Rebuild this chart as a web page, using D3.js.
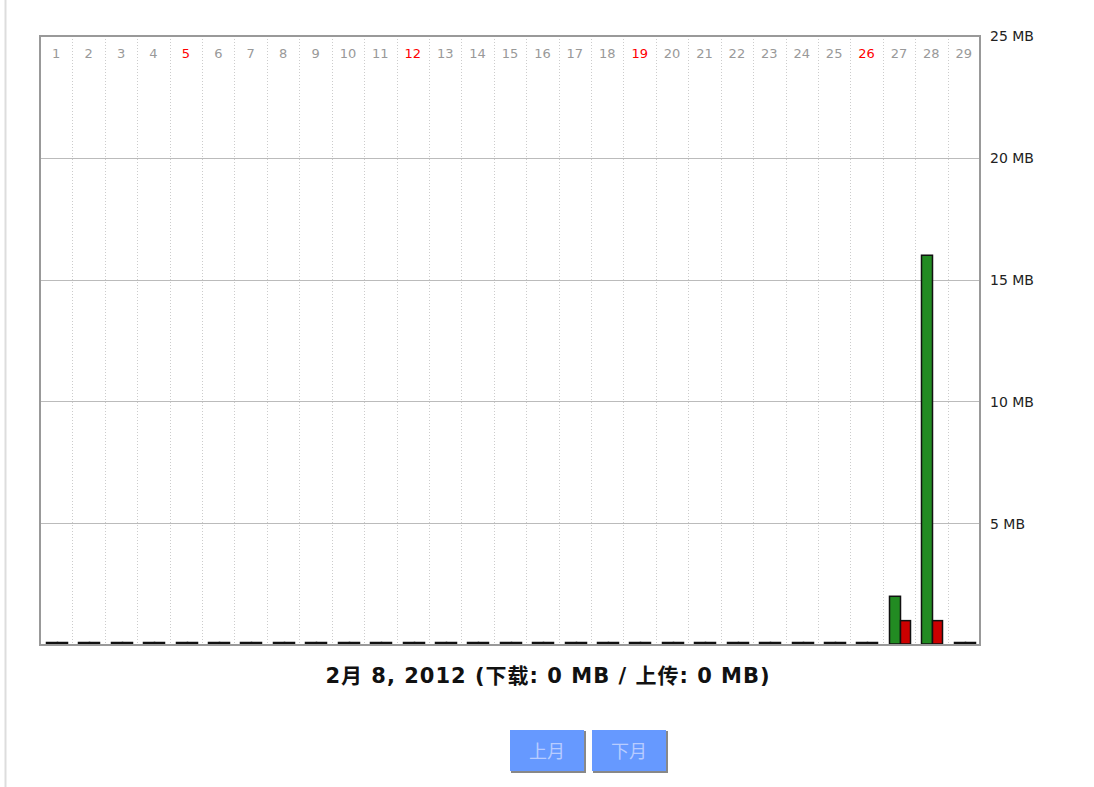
<!DOCTYPE html>
<html>
<head>
<meta charset="utf-8">
<script src="https://cdn.jsdelivr.net/npm/d3@7"></script>
<style>
    body { margin: 0; background: #fff; }
    #chart { position: relative; width: 1094px; height: 787px; }
</style>
</head>
<body>
<div id="chart"></div>
<script>
const days = d3.range(1, 30).map(String)
const sundays = ["5", "12", "19", "26"]
const download = [0, 0, 0, 0, 0, 0, 0, 0, 0, 0, 0, 0, 0, 0, 0, 0, 0, 0, 0, 0, 0, 0, 0, 0, 0, 0, 2, 16, 0]
const upload = [0, 0, 0, 0, 0, 0, 0, 0, 0, 0, 0, 0, 0, 0, 0, 0, 0, 0, 0, 0, 0, 0, 0, 0, 0, 0, 1, 1, 0]
const yTicks = [5, 10, 15, 20, 25]
const titleText = "2月 8, 2012 (下载: 0 MB / 上传: 0 MB)"
const buttons = ["上月", "下月"]

const downColor = "#228b22"
const upColor = "#cc0000"

function drawChart() {
    const margin = { top: 36, right: 114, bottom: 142, left: 40 };
    const width = 1094 - margin.left - margin.right;
    const height = 787 - margin.top - margin.bottom;

    const svg = d3.select("#chart")
        .append("svg")
        .attr("width", 1094)
        .attr("height", 787);

    // left page border
    svg.append("line")
        .attr("x1", 5.5).attr("x2", 5.5)
        .attr("y1", 0).attr("y2", 787)
        .attr("stroke", "#ddd")
        .attr("stroke-width", 2);

    const g = svg.append("g")
        .attr("transform", "translate(" + margin.left + "," + margin.top + ")");

    const x = d3.scaleBand()
        .domain(days)
        .range([0, width])
        .padding(0);

    const y = d3.scaleLinear()
        .domain([0, 25])
        .range([height, 0]);

    // horizontal grid
    g.selectAll(".hgrid")
        .data(yTicks)
        .enter().append("line")
        .attr("x1", 0).attr("x2", width)
        .attr("y1", d => Math.round(y(d)) + 0.5)
        .attr("y2", d => Math.round(y(d)) + 0.5)
        .attr("stroke", "#bbb");

    // dotted day separators
    g.selectAll(".vgrid")
        .data(days.slice(1))
        .enter().append("line")
        .attr("x1", d => Math.round(x(d)) + 0.5)
        .attr("x2", d => Math.round(x(d)) + 0.5)
        .attr("y1", 0).attr("y2", height)
        .attr("stroke", "#ccc")
        .attr("stroke-dasharray", "1,2");

    // day labels
    g.selectAll(".day")
        .data(days)
        .enter().append("text")
        .attr("x", d => x(d) + x.bandwidth() / 2)
        .attr("y", 22)
        .attr("text-anchor", "middle")
        .style("font-family", "DejaVu Sans, sans-serif")
        .style("font-size", "13px")
        .style("fill", d => sundays.includes(d) ? "#ff0000" : "#999")
        .text(d => d);

    // right axis labels
    const yAxis = d3.axisRight(y)
        .tickValues(yTicks)
        .tickSize(0)
        .tickPadding(10)
        .tickFormat(d => d + " MB");

    g.append("g")
        .attr("transform", "translate(" + width + ",0)")
        .call(yAxis)
        .call(s => s.select(".domain").remove())
        .selectAll("text")
        .attr("dy", "0.35em")
        .style("font-family", "DejaVu Sans, sans-serif")
        .style("font-size", "14px")
        .style("fill", "#222");

    // bars
    const data = days.map((d, i) => ({ day: d, down: download[i], up: upload[i] }));
    const barH = v => Math.max(1.5, height - y(v) - 1);

    g.selectAll(".down")
        .data(data)
        .enter().append("rect")
        .attr("class", "bar down")
        .attr("x", d => Math.round(x(d.day)) + 6.5)
        .attr("width", 11)
        .attr("y", d => height - 1 - barH(d.down))
        .attr("height", d => barH(d.down))
        .attr("fill", downColor)
        .attr("stroke", "#111")
        .attr("stroke-width", 1.5);

    g.selectAll(".up")
        .data(data)
        .enter().append("rect")
        .attr("class", "bar up")
        .attr("x", d => Math.round(x(d.day)) + 17.5)
        .attr("width", 10)
        .attr("y", d => height - 1 - barH(d.up))
        .attr("height", d => barH(d.up))
        .attr("fill", upColor)
        .attr("stroke", "#111")
        .attr("stroke-width", 1.5);

    // frame
    g.append("rect")
        .attr("x", 0).attr("y", 0)
        .attr("width", width).attr("height", height)
        .attr("fill", "none")
        .attr("stroke", "#999")
        .attr("stroke-width", 2);

    // title
    svg.append("text")
        .attr("x", margin.left + width / 2 + 38)
        .attr("y", 683)
        .attr("text-anchor", "middle")
        .style("font-family", "DejaVu Sans, Noto Sans CJK SC, sans-serif")
        .style("font-size", "21px")
        .style("letter-spacing", "1px")
        .style("font-weight", "bold")
        .style("fill", "#111")
        .text(titleText);

    // month buttons
    const btn = svg.selectAll(".btn")
        .data(buttons)
        .enter().append("g")
        .attr("transform", (d, i) => "translate(" + (510 + i * 82) + ",730)");

    btn.append("rect")
        .attr("x", 1).attr("y", 1)
        .attr("width", 75).attr("height", 42)
        .attr("fill", "#888");

    btn.append("rect")
        .attr("width", 74).attr("height", 41)
        .attr("fill", "#6699ff");

    btn.append("text")
        .attr("x", 37).attr("y", 28)
        .attr("text-anchor", "middle")
        .style("font-family", "Noto Sans CJK SC, sans-serif")
        .style("font-size", "18px")
        .style("fill", "#b8ccff")
        .text(d => d);
}

drawChart();
</script>
</body>
</html>
